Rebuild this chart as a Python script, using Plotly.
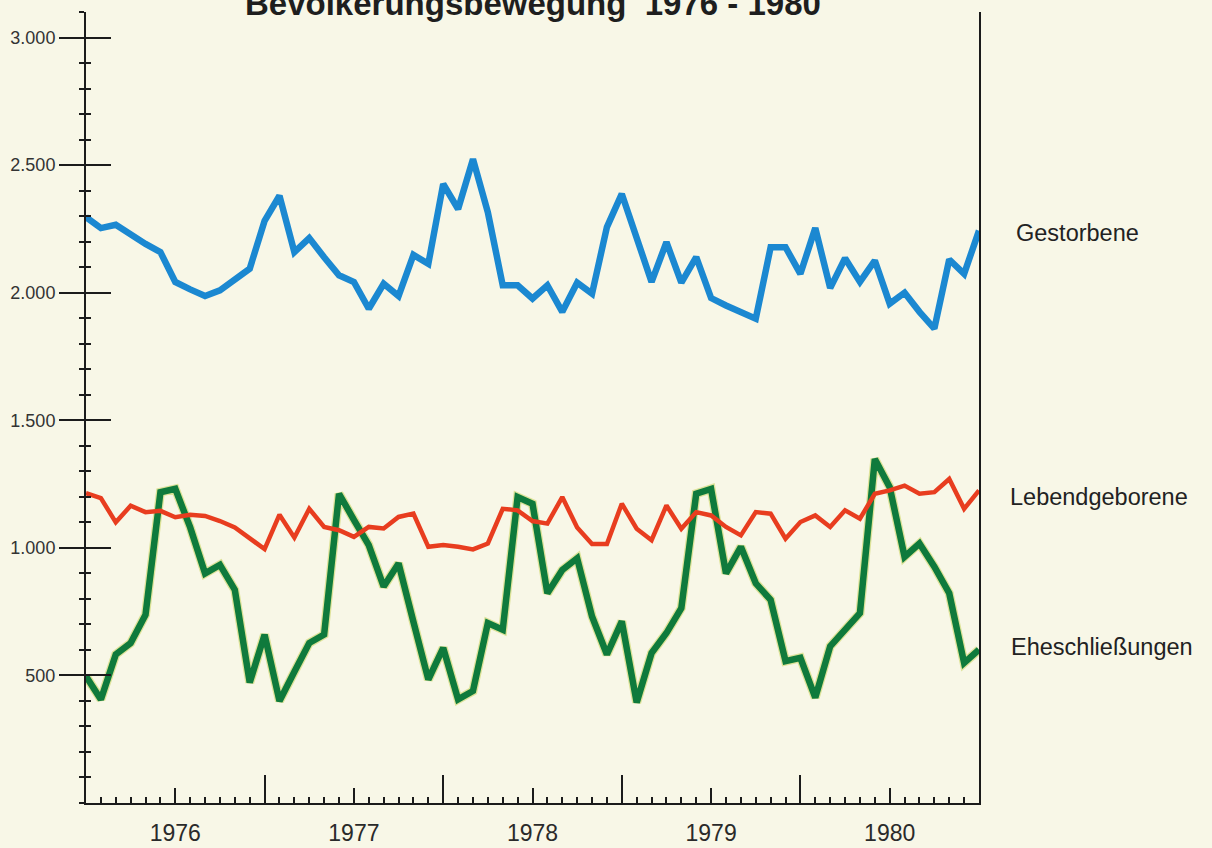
import plotly.graph_objects as go

# monthly values, Jan 1976 .. Jan 1981
months = list(range(61))

gestorbene = [2296, 2253, 2266, 2226, 2191, 2159, 2042, 2013, 1987, 2009, 2048, 2094,
              2282, 2380, 2159, 2214, 2139, 2068, 2042, 1937, 2035, 1987, 2148, 2113,
              2426, 2328, 2523, 2315, 2029, 2029, 1977, 2029, 1925, 2039, 1996, 2257,
              2387, 2205, 2042, 2198, 2039, 2139, 1979, 1950, 1925, 1898, 2178, 2178,
              2074, 2253, 2018, 2135, 2042, 2126, 1957, 2000, 1925, 1859, 2130, 2074,
              2243]

lebendgeborene = [1214, 1195, 1100, 1165, 1140, 1145, 1120, 1130, 1125, 1105, 1080, 1040,
                  995, 1130, 1040, 1153, 1082, 1069, 1043, 1082, 1076, 1121, 1134, 1004,
                  1011, 1004, 994, 1017, 1153, 1147, 1105, 1095, 1199, 1080, 1015, 1015,
                  1173, 1075, 1030, 1166, 1075, 1140, 1127, 1082, 1049, 1140, 1134, 1036,
                  1101, 1127, 1082, 1147, 1114, 1212, 1225, 1244, 1212, 1218, 1270, 1153,
                  1225]

eheschliessungen = [497, 406, 582, 627, 738, 1218, 1231, 1080, 900, 933, 835, 472,
                    660, 400, 514, 627, 660, 1212, 1110, 1011, 848, 939, 710, 484,
                    608, 406, 439, 705, 679, 1199, 1173, 822, 913, 959, 731, 582,
                    712, 394, 588, 666, 764, 1212, 1231, 900, 1004, 861, 796, 556,
                    569, 413, 614, 680, 744, 1348, 1238, 965, 1017, 926, 822, 549,
                    601]

years = ["1976", "1977", "1978", "1979", "1980"]
year_mid = [6, 18, 30, 42, 54]
year_edges = [12, 24, 36, 48]
y_ticks = [500, 1000, 1500, 2000, 2500, 3000]
y_labels = ["500", "1.000", "1.500", "2.000", "2.500", "3.000"]

bg = "#f8f7e7"
ink = "#1b1b1b"

fig = go.Figure()

# green with a slight yellow fringe like the print
fig.add_trace(go.Scatter(x=months, y=eheschliessungen, mode="lines",
                         line=dict(color="#c9d35a", width=9), opacity=0.55,
                         hoverinfo="skip", showlegend=False))
fig.add_trace(go.Scatter(x=months, y=eheschliessungen, mode="lines",
                         line=dict(color="#0f7a3c", width=6.5),
                         name="Eheschließungen", showlegend=False))
fig.add_trace(go.Scatter(x=months, y=lebendgeborene, mode="lines",
                         line=dict(color="#e83d1f", width=4.5),
                         name="Lebendgeborene", showlegend=False))
fig.add_trace(go.Scatter(x=months, y=gestorbene, mode="lines",
                         line=dict(color="#1b88d1", width=6.5),
                         name="Gestorbene", showlegend=False))
# empty trace so the overlay axes get drawn
fig.add_trace(go.Scatter(x=[], y=[], xaxis="x2", yaxis="y2", showlegend=False))

fig.update_layout(
    width=1212, height=848,
    margin=dict(l=86, r=233, t=12, b=45),
    paper_bgcolor=bg, plot_bgcolor=bg,
    font=dict(family="Liberation Sans, Arial, sans-serif", color=ink),
    xaxis=dict(range=[0, 60], showgrid=False, zeroline=False, automargin=False,
               showline=True, linecolor=ink, linewidth=2,
               tickvals=year_edges, ticks="inside", ticklen=28, tickwidth=2,
               tickcolor=ink, showticklabels=False,
               minor=dict(tick0=0, dtick=1, ticks="inside", ticklen=6,
                          tickwidth=1.5, tickcolor=ink)),
    xaxis2=dict(range=[0, 60], overlaying="x", anchor="y2", side="bottom",
                showgrid=False, zeroline=False, showline=False, automargin=False,
                tickvals=year_mid, ticktext=years, ticks="inside", ticklen=15,
                tickwidth=2, tickcolor=ink, ticklabelstandoff=14,
                tickfont=dict(size=23, color="#2a2a2a")),
    yaxis=dict(range=[0, 3100], showgrid=False, zeroline=False, automargin=False,
               showline=True, linecolor=ink, linewidth=2, mirror=True,
               tickvals=y_ticks, ticktext=y_labels, ticks="outside",
               ticklen=25, tickwidth=2, tickcolor=ink,
               tickfont=dict(size=18, color="#333333"),
               minor=dict(tick0=0, dtick=100, ticks="outside", ticklen=5,
                          tickwidth=2, tickcolor=ink)),
    yaxis2=dict(range=[0, 3100], overlaying="y", anchor="x2", side="left",
                showgrid=False, zeroline=False, showline=False, automargin=False,
                tickvals=y_ticks, ticks="inside", ticklen=25, tickwidth=2,
                tickcolor=ink, showticklabels=False,
                minor=dict(tick0=0, dtick=100, ticks="inside", ticklen=5,
                           tickwidth=2, tickcolor=ink)),
    showlegend=False,
)

# series names at the right
label_font = dict(size=23.5, color="#222222")
fig.add_annotation(text="Gestorbene", xref="paper", x=1.039, xanchor="left",
                   yref="y", y=2234, showarrow=False, font=label_font)
fig.add_annotation(text="Lebendgeborene", xref="paper", x=1.033, xanchor="left",
                   yref="y", y=1199, showarrow=False, font=label_font)
fig.add_annotation(text="Eheschließungen", xref="paper", x=1.034, xanchor="left",
                   yref="y", y=611, showarrow=False, font=label_font)

# title, partly cut off at the top edge as in the scan
fig.add_annotation(text="<b>Bevölkerungsbewegung  1976 - 1980</b>", xref="paper", x=0.5,
                   yref="paper", y=1, yanchor="bottom", yshift=-12, showarrow=False,
                   font=dict(size=33, color="#1e1e1e"))

fig.write_html("out.html", config={"displayModeBar": False},
               post_script="document.body.style.margin='0';"
                           "document.body.style.overflow='hidden';")
